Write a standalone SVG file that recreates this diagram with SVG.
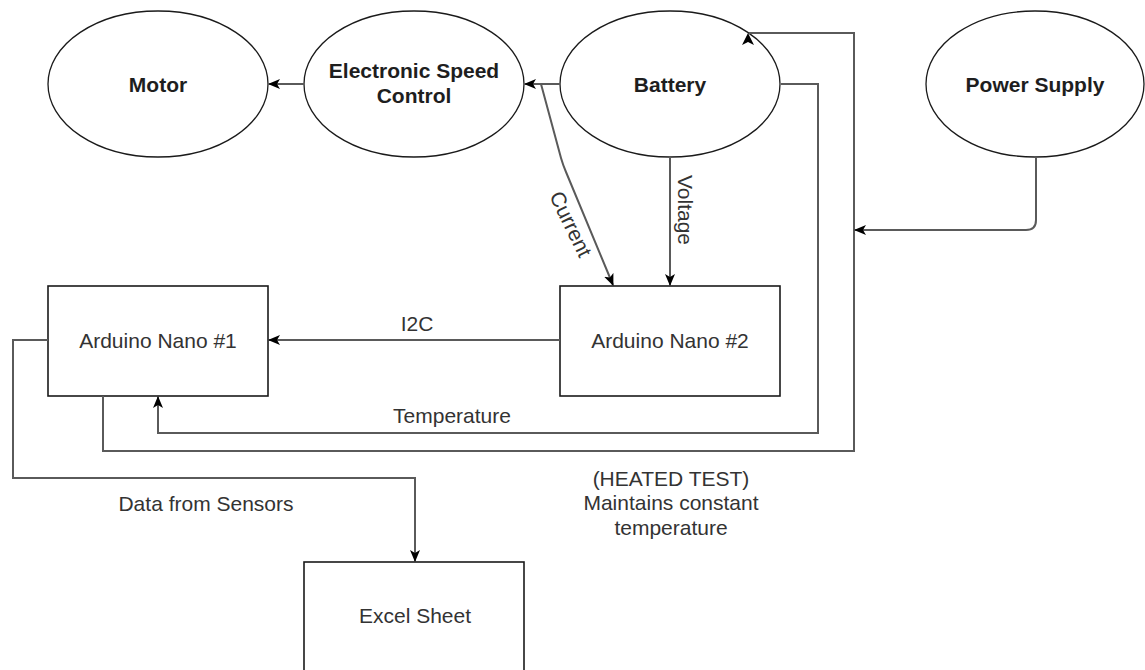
<svg xmlns="http://www.w3.org/2000/svg" width="1145" height="670" viewBox="0 0 1145 670">
<style>
  .ell { fill: #ffffff; stroke: #1a1a1a; stroke-width: 1.3; }
  .box { fill: #ffffff; stroke: #1a1a1a; stroke-width: 1.6; }
  .lbl { font-family: "Liberation Sans", Arial, sans-serif; font-size: 21px; fill: #333333; text-anchor: middle; }
  .bold { font-weight: bold; fill: #1e1e1e; }
  .edge { fill: none; stroke: #5a5a5a; stroke-width: 2; }
  .head { fill: #000000; stroke: none; }
  .elbl { font-family: "Liberation Sans", Arial, sans-serif; font-size: 21px; fill: #333333; text-anchor: middle; }
</style>
<defs>
  <marker id="arrow" markerUnits="userSpaceOnUse" viewBox="0 0 12 10" markerWidth="12" markerHeight="10" refX="11" refY="5" orient="auto">
    <path d="M0,0 L12,5 L0,10 L3,5 Z" fill="#000000"/>
  </marker>
</defs>
<rect x="0" y="0" width="1145" height="670" fill="#ffffff"/>

<g id="motor">
  <ellipse class="ell" cx="158" cy="84" rx="110" ry="73"/>
  <text class="lbl bold" x="158" y="91.5">Motor</text>
</g>
<g id="esc">
  <ellipse class="ell" cx="414" cy="84" rx="110" ry="73"/>
  <text class="lbl bold" x="414" y="77.5">Electronic Speed</text>
  <text class="lbl bold" x="414" y="102.5">Control</text>
</g>
<g id="battery">
  <ellipse class="ell" cx="670" cy="84" rx="110" ry="73"/>
  <text class="lbl bold" x="670" y="91.5">Battery</text>
</g>
<g id="power-supply">
  <ellipse class="ell" cx="1035" cy="84" rx="109" ry="73"/>
  <text class="lbl bold" x="1035" y="91.5">Power Supply</text>
</g>
<g id="arduino1">
  <rect class="box" x="48" y="286" width="220" height="110"/>
  <text class="lbl" x="158" y="347.5">Arduino Nano #1</text>
</g>
<g id="arduino2">
  <rect class="box" x="560" y="286" width="220" height="110"/>
  <text class="lbl" x="670" y="347.5">Arduino Nano #2</text>
</g>
<g id="excel">
  <rect class="box" x="304" y="562" width="220" height="110"/>
  <text class="lbl" x="415" y="622.5">Excel Sheet</text>
</g>
<g id="heated-note">
  <text class="lbl" x="671" y="485.5">(HEATED TEST)</text>
  <text class="lbl" x="671" y="510">Maintains constant</text>
  <text class="lbl" x="671" y="534.5">temperature</text>
</g>

<g id="connectors">
  <path class="edge" d="M304,84 L269,84" marker-end="url(#arrow)"/>
  <path class="edge" d="M560,84 L525,84" marker-end="url(#arrow)"/>
  <path class="edge" d="M541,84 L561,158 Q563,165 566,172 L613,285" marker-end="url(#arrow)"/>
  <path class="edge" d="M670,157 L670,285" marker-end="url(#arrow)"/>
  <path class="edge" d="M560,340 L269,340" marker-end="url(#arrow)"/>
  <path class="edge" d="M781,84 L818,84 L818,433 L158,433 L158,397" marker-end="url(#arrow)"/>
  <path class="edge" d="M103,396 L103,451 L854,451 L854,33 L749,33"/>
  <polygon class="head" points="748,33 754,45 748,42 742,45"/>
  <path class="edge" d="M1036,157 L1036,220 Q1036,230 1026,230 L855,230" marker-end="url(#arrow)"/>
  <path class="edge" d="M48,340 L13,340 L13,478 L415,478 L415,561" marker-end="url(#arrow)"/>
  <text class="elbl" x="571" y="224" dominant-baseline="central" transform="rotate(64 571 224)">Current</text>
  <text class="elbl" x="685" y="210" dominant-baseline="central" transform="rotate(90 685 210)">Voltage</text>
  <text class="elbl" x="417" y="330.5">I2C</text>
  <text class="elbl" x="452" y="422.5">Temperature</text>
  <text class="elbl" x="206" y="510.5">Data from Sensors</text>
</g>
</svg>
